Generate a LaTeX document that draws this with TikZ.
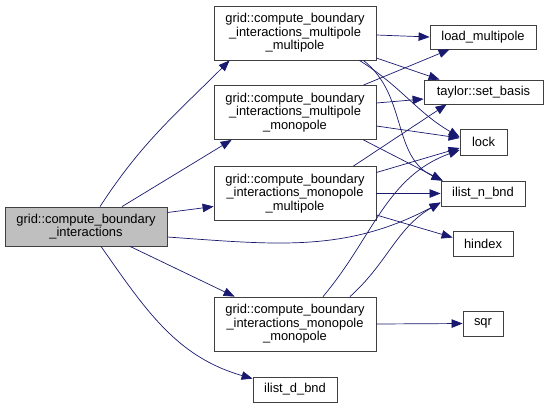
\documentclass[tikz,border=0pt]{standalone}
\usepackage{fontspec}
\setmainfont{Liberation Sans}
\usetikzlibrary{arrows.meta, positioning}
\definecolor{cEdge}{RGB}{25,25,112}
\definecolor{cRoot}{RGB}{191,191,191}
\tikzset{
    func/.style     ={rectangle, draw=black!75, line width=0.8pt, fill=white, align=center, inner sep=0pt, minimum height=25pt, font=\fontsize{12.9}{13.4}\selectfont},
    bigfunc/.style  ={func, minimum width=162pt, minimum height=54pt},
    rootfunc/.style ={func, fill=cRoot, minimum width=162pt, minimum height=39pt},
    callarrow/.style={-{Triangle[length=11pt, width=8.5pt]}, draw=cEdge, line width=0.7pt},
}

\begin{document}
\begin{tikzpicture}[x=1pt, y=-1pt]
    \useasboundingbox (0,0) rectangle (548,408);
    % caller
    \node[rootfunc] (main) at (86,226.5) {grid::compute\_boundary\\\_interactions};
    % middle column
    \node[bigfunc] (mm)        at (295,33)    {grid::compute\_boundary\\\_interactions\_multipole\\\_multipole};
    \node[bigfunc] (mmono)     at (295,112.5) {grid::compute\_boundary\\\_interactions\_multipole\\\_monopole};
    \node[bigfunc] (monomulti) at (295,193.5) {grid::compute\_boundary\\\_interactions\_monopole\\\_multipole};
    \node[bigfunc] (monomono)  at (295,324)   {grid::compute\_boundary\\\_interactions\_monopole\\\_monopole};
    \node[func, minimum width=84pt] (ilistd) at (295,389.5) {ilist\_d\_bnd};
    % right column
    \node[func, minimum width=106pt, minimum height=24pt] (load)   at (483,37)    {load\_multipole};
    \node[func, minimum width=119pt, minimum height=24pt] (taylor) at (483.5,92)  {taylor::set\_basis};
    \node[func, minimum width=47pt, minimum height=26pt]  (lock)   at (483.5,142) {lock};
    \node[func, minimum width=84pt]  (ilistn) at (483,193.5) {ilist\_n\_bnd};
    \node[func, minimum width=60pt]  (hindex) at (483,243.5) {hindex};
    \node[func, minimum width=40pt]  (sqr)    at (483,323.5) {sqr};

    % calls of the caller
    \draw[callarrow] ([xshift=14pt]main.north) to[out=57,in=225] ([xshift=16pt]mm.south west);
    \draw[callarrow] ([xshift=36pt]main.north) -- ([xshift=18pt]mmono.south west);
    \draw[callarrow] ([yshift=14pt]main.east) -- ([yshift=-13pt]monomulti.west);
    \draw[callarrow] ([yshift=-10.5pt]main.east) to[out=-4,in=208] ([yshift=-9pt]ilistn.west);
    \draw[callarrow] ([xshift=44pt]main.south) -- ([xshift=21pt]monomono.north west);
    \draw[callarrow] ([xshift=15pt]main.south) to[out=-55,in=164] ([yshift=-2pt]ilistd.north west);

    % multipole multipole
    \draw[callarrow] ([yshift=-2pt]mm.east) -- (load.west);
    \draw[callarrow] ([yshift=-25pt]mm.east) -- ([xshift=16pt]taylor.north west);
    \draw[callarrow] ([xshift=-17pt]mm.south east) to[out=-32,in=150] ([yshift=5pt]lock.west);
    \draw[callarrow] ([xshift=-13pt]mm.south east) to[out=-38,in=155] ([xshift=2pt]ilistn.north west);

    % multipole monopole
    \draw[callarrow] ([xshift=-13pt]mmono.north east) -- ([xshift=20pt]load.south west);
    \draw[callarrow] ([yshift=9.5pt]mmono.east) -- ([yshift=-7pt]taylor.west);
    \draw[callarrow] ([yshift=-13.5pt]mmono.east) -- ([yshift=4pt]lock.west);
    \draw[callarrow] ([xshift=-13pt]mmono.south east) -- ([xshift=2pt]ilistn.north west);

    % monopole multipole
    \draw[callarrow] ([xshift=-23pt]monomulti.north east) -- ([xshift=23pt]taylor.south west);
    \draw[callarrow] ([yshift=21pt]monomulti.east) -- ([yshift=-6pt]lock.west);
    \draw[callarrow] (monomulti.east) -- (ilistn.west);
    \draw[callarrow] ([yshift=-21.5pt]monomulti.east) -- ([yshift=6pt]hindex.west);

    % monopole monopole
    \draw[callarrow] ([xshift=28pt]monomono.north) to[out=50,in=200] ([yshift=-8pt]lock.west);
    \draw[callarrow] ([xshift=55pt]monomono.north) to[out=42,in=210] ([yshift=-9pt]ilistn.west);
    \draw[callarrow] (monomono.east) -- (sqr.west);
\end{tikzpicture}
\end{document}
